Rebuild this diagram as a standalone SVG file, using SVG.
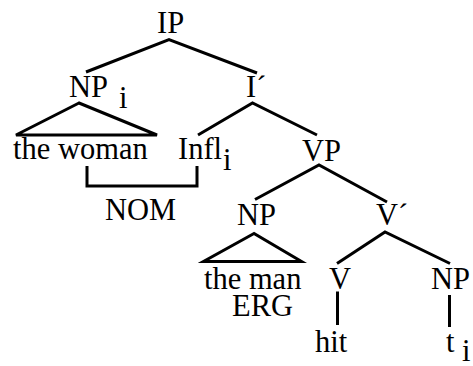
<svg xmlns="http://www.w3.org/2000/svg" width="473" height="366" viewBox="0 0 473 366">
  <style>
    text { font-family: "Liberation Serif", "Times New Roman", serif; font-size: 30.5px; fill: #000; }
    .edge { stroke: #000; stroke-width: 3; fill: none; }
  </style>
  <rect width="473" height="366" fill="#fff"/>

  <!-- tree branches, triangles and the case bracket -->
  <g id="connectors">
    <polyline class="edge" points="86,72 169,39.5 257,73"/>
    <polygon class="edge" points="79,103 16,135 157,135"/>
    <polyline class="edge" points="198,135 252.5,103 317,135"/>
    <polyline class="edge" points="87,166 87,186 197,186 197,166"/>
    <polyline class="edge" points="255,199.5 319,165 387,202"/>
    <polygon class="edge" points="254,233.5 203.5,261.5 301.5,261.5"/>
    <polyline class="edge" points="337,263.5 385,232 450,263.5"/>
    <line class="edge" x1="337.5" y1="291.5" x2="337.5" y2="325"/>
    <line class="edge" x1="449.5" y1="295" x2="449.5" y2="327"/>
  </g>

  <!-- node labels -->
  <g id="node-ip"><text x="157" y="33">IP</text></g>
  <g id="node-np-i"><text x="69" y="97">NP</text><text x="119" y="108">i</text></g>
  <g id="node-woman"><text x="13" y="159">the woman</text></g>
  <g id="node-ibar"><text x="246" y="97">I´</text></g>
  <g id="node-infl"><text x="178" y="159">Infl</text><text x="223" y="170">i</text></g>
  <g id="node-nom"><text x="105" y="220">NOM</text></g>
  <g id="node-vp"><text x="302" y="161">VP</text></g>
  <g id="node-np-erg"><text x="237" y="225">NP</text></g>
  <g id="node-man"><text x="204" y="289">the man</text><text x="232" y="316">ERG</text></g>
  <g id="node-vbar"><text x="376" y="225">V´</text></g>
  <g id="node-v"><text x="329" y="289">V</text></g>
  <g id="node-hit"><text x="315" y="352">hit</text></g>
  <g id="node-np-t"><text x="431" y="289">NP</text></g>
  <g id="node-t"><text x="446" y="352">t</text><text x="462" y="361">i</text></g>
</svg>
